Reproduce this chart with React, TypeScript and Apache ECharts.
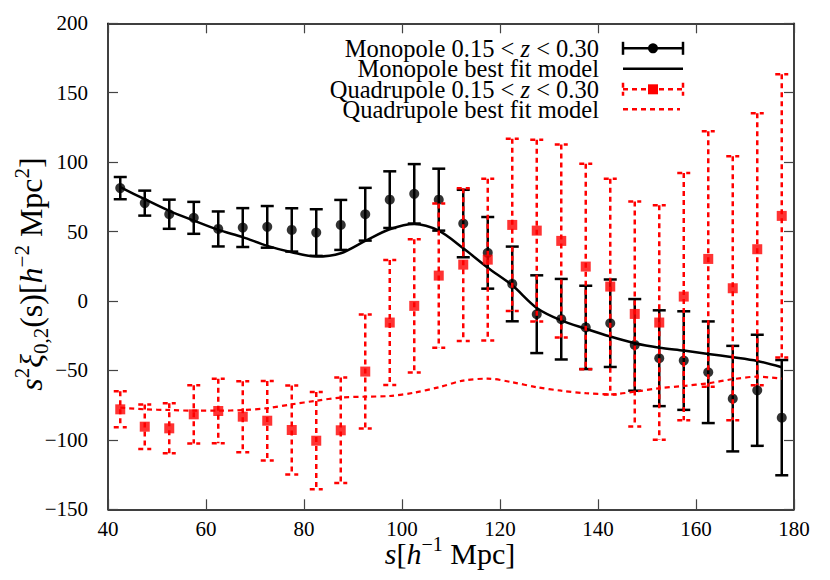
import React, { useEffect, useRef } from "react";
import * as echarts from "echarts";

const xs = [42.5, 47.5, 52.5, 57.5, 62.5, 67.5, 72.5, 77.5, 82.5, 87.5, 92.5, 97.5, 102.5, 107.5, 112.5, 117.5, 122.5, 127.5, 132.5, 137.5, 142.5, 147.5, 152.5, 157.5, 162.5, 167.5, 172.5, 177.5];
const mono = [81.3, 70.5, 62.5, 59.9, 51.9, 52.9, 53.4, 51.2, 49.3, 54.8, 62.5, 73, 77.2, 73, 55.8, 34.7, 12.3, -9.5, -13.1, -19, -16, -31.6, -41.2, -42.9, -51.3, -70.3, -64.3, -84];
const monoErr = [8, 9, 10.5, 11.5, 12.6, 14, 15, 15.6, 16.8, 18, 19, 20.4, 21.4, 22.3, 24.3, 25.8, 26.9, 28, 29, 30, 31.5, 33, 34.5, 35.5, 36.6, 38, 40, 41.5];
const quad = [-78, -90.5, -91.7, -81.6, -79.2, -83.3, -86.2, -92.9, -100.6, -93.1, -50.8, -15.5, -3.5, 18.3, 26.2, 29.8, 54.8, 50.7, 43.3, 24.8, 10.4, -9.3, -15.5, 3.2, 30.3, 9.2, 37.3, 61.3];
const quadErr = [13, 16, 18, 21, 23.3, 25.6, 28.6, 32, 35, 38, 41, 45, 48, 52, 55, 58.3, 62, 65.5, 69.5, 74, 77.7, 81, 84.5, 89, 92, 95, 98, 102];
const monoFit = [82, 73.3, 64.9, 57.9, 51.2, 46, 39.7, 35.1, 32, 34.4, 43.3, 51.7, 55.5, 50.7, 38, 24, 11.3, -5, -14, -20, -25.6, -30.4, -33.6, -35.7, -38.1, -40.5, -43.2, -47.7];
const quadFit = [-76.8, -78, -78.5, -79, -79, -78.5, -77.2, -74.4, -71.8, -69.5, -68.9, -68.4, -66, -62.1, -57.3, -55.9, -58.5, -62.1, -64.6, -66.4, -67.2, -65.3, -62.8, -61.2, -59.2, -56.3, -54.5, -55.9];

const xTicks = { min: 40, max: 180, interval: 20 };
const yTicks = { min: -150, max: 200, interval: 50 };

const legendLabels = [
  "Monopole 0.15 < {i|z} < 0.30",
  "Monopole best fit model",
  "Quadrupole 0.15 < {i|z} < 0.30",
  "Quadrupole best fit model",
];

const FONT = "'Liberation Serif', 'Times New Roman', serif";
const RED = "#ff0000";
const LEG_FS = 24.5;
const NAME_FS = 30;
const SUP_FS = 20;
const YNAME_FS = 32;
const YSUP_FS = 21;

function errRender(color: string, dash: number[] | null) {
  return (params: any, api: any) => {
    const x = api.value(0);
    const y = api.value(1);
    const e = api.value(2);
    const top = api.coord([x, y + e]);
    const bot = api.coord([x, y - e]);
    const w = 6.5;
    const style: any = { stroke: color, lineWidth: 2.5, fill: null };
    if (dash) style.lineDash = dash;
    return {
      type: "group",
      children: [
        { type: "line", shape: { x1: top[0], y1: top[1], x2: bot[0], y2: bot[1] }, style },
        { type: "line", shape: { x1: top[0] - w, y1: top[1], x2: top[0] + w, y2: top[1] }, style },
        { type: "line", shape: { x1: bot[0] - w, y1: bot[1], x2: bot[0] + w, y2: bot[1] }, style },
      ],
    };
  };
}

function fmt(v: number) {
  return String(v).replace("-", "\u2212");
}

export default function App() {
  const ref = useRef<HTMLDivElement>(null);
  useEffect(() => {
    if (!ref.current) return;
    const chart = echarts.init(ref.current, null, { renderer: "svg" });
    const axisCommon = {
      type: "value" as const,
      splitLine: { show: false },
      axisLine: { show: true, onZero: false, lineStyle: { color: "#000", width: 1.5 } },
      axisTick: { show: true, inside: true, length: 10, lineStyle: { color: "#444", width: 1.2 } },
    };
    const richTxt = { i: { fontStyle: "italic", fontFamily: FONT, fontSize: LEG_FS, color: "#000" } };
    const lx1 = 623, lx2 = 683, lmid = 653;
    const rows = [48.3, 68.7, 89.3, 109.3];
    const capH = 6.5;
    const graphic: any[] = [];
    legendLabels.forEach((t, k) => {
      graphic.push({
        type: "text",
        x: 599,
        y: rows[k],
        style: {
          text: t,
          fontFamily: FONT,
          fontSize: LEG_FS,
          fill: "#000",
          align: "right",
          verticalAlign: "middle",
          rich: richTxt,
        },
        z: 100,
      });
    });
    const blk = { stroke: "#000", lineWidth: 2.5 };
    const rd = { stroke: RED, lineWidth: 2.5, lineDash: [5, 4] };
    graphic.push(
      { type: "line", shape: { x1: lx1, y1: rows[0], x2: lx2, y2: rows[0] }, style: blk, z: 100 },
      { type: "line", shape: { x1: lx1, y1: rows[0] - capH, x2: lx1, y2: rows[0] + capH }, style: blk, z: 100 },
      { type: "line", shape: { x1: lx2, y1: rows[0] - capH, x2: lx2, y2: rows[0] + capH }, style: blk, z: 100 },
      { type: "circle", shape: { cx: lmid, cy: rows[0], r: 5 }, style: { fill: "#000" }, z: 100 },
      { type: "line", shape: { x1: lx1, y1: rows[1], x2: lx2, y2: rows[1] }, style: blk, z: 100 },
      { type: "line", shape: { x1: lx1, y1: rows[2], x2: lx2, y2: rows[2] }, style: rd, z: 100 },
      { type: "line", shape: { x1: lx1, y1: rows[2] - capH, x2: lx1, y2: rows[2] + capH }, style: rd, z: 100 },
      { type: "line", shape: { x1: lx2, y1: rows[2] - capH, x2: lx2, y2: rows[2] + capH }, style: rd, z: 100 },
      { type: "rect", shape: { x: lmid - 5, y: rows[2] - 5, width: 10, height: 10 }, style: { fill: RED }, z: 100 },
      { type: "line", shape: { x1: lx1, y1: rows[3], x2: lx2 - 3, y2: rows[3] }, style: rd, z: 100 }
    );
    const nameRich = {
      i: { fontStyle: "italic", fontFamily: FONT, fontSize: NAME_FS },
      sup: { fontFamily: FONT, fontSize: SUP_FS, verticalAlign: "top", lineHeight: 38, padding: [0, 0, 12, 0] },
    };
    const yNameRich = {
      i: { fontStyle: "italic", fontFamily: FONT, fontSize: YNAME_FS },
      sup: { fontFamily: FONT, fontSize: YSUP_FS, verticalAlign: "top", lineHeight: 40, padding: [0, 0, 13, 0] },
      sub: { fontFamily: FONT, fontSize: YSUP_FS, verticalAlign: "bottom", lineHeight: 40, padding: [14, 0, 0, 0] },
    };
    graphic.push({
      type: "text",
      x: 450,
      y: 553,
      style: {
        text: "{i|s}[{i|h}{sup|\u22121} Mpc]",
        fontFamily: FONT,
        fontSize: NAME_FS,
        fill: "#000",
        align: "center",
        verticalAlign: "middle",
        rich: nameRich,
      },
    });
    graphic.push({
      type: "text",
      x: 31,
      y: 274,
      rotation: Math.PI / 2,
      style: {
        text: "{i|s}{sup|2}{i|\u03be}{sub|0,2}(s)[{i|h}{sup|\u22122} Mpc{sup|2}]",
        fontFamily: FONT,
        fontSize: YNAME_FS,
        fill: "#000",
        align: "center",
        verticalAlign: "middle",
        rich: yNameRich,
      },
    });

    chart.setOption({
      animation: false,
      backgroundColor: "#fff",
      grid: { left: 108, right: 36, top: 23.3, bottom: 70.7, containLabel: false },
      xAxis: [
        {
          ...axisCommon,
          position: "bottom",
          ...xTicks,
          axisLabel: { show: true, margin: 9, fontFamily: FONT, fontSize: 21, color: "#000", formatter: fmt },
        },
        {
          ...axisCommon,
          position: "top",
          ...xTicks,
          axisLabel: { show: false },
        },
      ],
      yAxis: [
        {
          ...axisCommon,
          position: "left",
          ...yTicks,
          axisLabel: { show: true, margin: 20, fontFamily: FONT, fontSize: 21, color: "#000", formatter: fmt },
        },
        {
          ...axisCommon,
          position: "right",
          ...yTicks,
          axisLabel: { show: false },
        },
      ],
      graphic,
      series: [
        {
          type: "custom",
          name: "monoErr",
          renderItem: errRender("#000", null),
          data: xs.map((x, i) => [x, mono[i], monoErr[i]]),
          encode: { x: 0, y: 1 },
          z: 2,
        },
        {
          type: "line",
          name: "monoFit",
          data: xs.map((x, i) => [x, monoFit[i]]),
          showSymbol: false,
          smooth: 0.3,
          lineStyle: { color: "#000", width: 2.5 },
          z: 3,
        },
        {
          type: "scatter",
          name: "mono",
          data: xs.map((x, i) => [x, mono[i]]),
          symbol: "circle",
          symbolSize: 10,
          itemStyle: { color: "#000" },
          z: 4,
        },
        {
          type: "custom",
          name: "quadErr",
          renderItem: errRender(RED, [5, 4]),
          data: xs.map((x, i) => [x, quad[i], quadErr[i]]),
          encode: { x: 0, y: 1 },
          z: 5,
        },
        {
          type: "scatter",
          name: "quad",
          data: xs.map((x, i) => [x, quad[i]]),
          symbol: "rect",
          symbolSize: 10,
          itemStyle: { color: RED },
          z: 6,
        },
        {
          type: "line",
          name: "quadFit",
          data: xs.map((x, i) => [x, quadFit[i]]),
          showSymbol: false,
          smooth: 0.3,
          lineStyle: { color: RED, width: 2.2, type: [5, 4] },
          z: 7,
        },
      ],
    });
    return () => chart.dispose();
  }, []);
  return <div ref={ref} style={{ position: "absolute", left: 0, top: 0, width: 830, height: 580 }} />;
}
